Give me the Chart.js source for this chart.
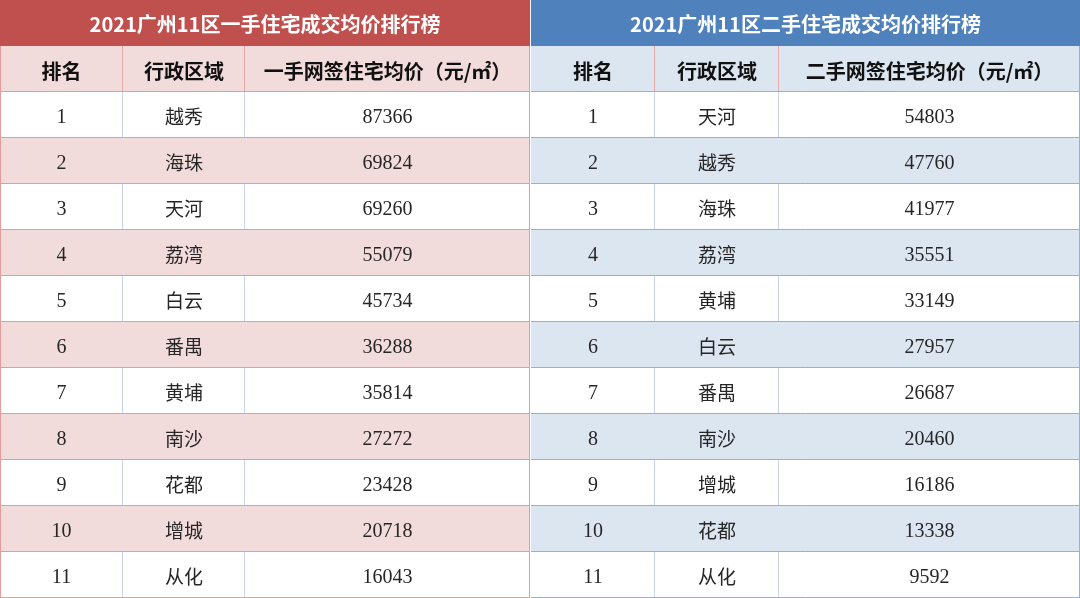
<!DOCTYPE html>
<html><head><meta charset="utf-8">
<script src="https://cdn.jsdelivr.net/npm/chart.js@4.4.1/dist/chart.umd.min.js"></script>
<style>html,body{margin:0;padding:0;background:#fff;}canvas{display:block;}</style>
</head><body>
<canvas id="c" width="1080" height="598"></canvas>
<script>
// ---- data ----
const ranks = ['1','2','3','4','5','6','7','8','9','10','11'];
const newDistricts = ['越秀','海珠','天河','荔湾','白云','番禺','黄埔','南沙','花都','增城','从化'];
const newPrices = [87366,69824,69260,55079,45734,36288,35814,27272,23428,20718,16043];
const resaleDistricts = ['天河','越秀','海珠','荔湾','黄埔','白云','番禺','南沙','增城','花都','从化'];
const resalePrices = [54803,47760,41977,35551,33149,27957,26687,20460,16186,13338,9592];
const titles = ['2021广州11区一手住宅成交均价排行榜','2021广州11区二手住宅成交均价排行榜'];
const newHeaders = ['排名','行政区域','一手网签住宅均价（元/㎡）'];
const resaleHeaders = ['排名','行政区域','二手网签住宅均价（元/㎡）'];

// ---- layout (not data) ----
const rowKeys = ['title','header'].concat(ranks);
const leftEdges = [0,123,245,530];
const rightEdges = [531,655,779,1080];
const C = {
  redTitle:'#C0504D', blueTitle:'#4F81BD', pink:'#F2DCDB', blue:'#DCE6F1',
  pinkLine:'#E69C9A', blueLine:'#93B1D7', bodyV:'#C9D3EA', headV:'#E6A9A7'
};

function spanData(rowFilter, a, b){
  return rowKeys.map((k,i)=> rowFilter(i) ? [a,b] : null);
}
const isShaded = i => i===1 || (i>=2 && (i-2)%2===1);
const datasets = [
  {data: spanData(i=>i===0, leftEdges[0], leftEdges[3]), backgroundColor: C.redTitle},
  {data: spanData(i=>i===0, rightEdges[0], rightEdges[3]), backgroundColor: C.blueTitle},
  {data: spanData(isShaded, leftEdges[0], leftEdges[3]), backgroundColor: C.pink},
  {data: spanData(isShaded, rightEdges[0], rightEdges[3]), backgroundColor: C.blue}
].map(d=>Object.assign(d,{grouped:false, barPercentage:1, categoryPercentage:1, borderWidth:0, inflateAmount:0, borderSkipped:false}));

const tablePlugin = {
  id:'table',
  beforeDraw(chart){
    const ctx = chart.ctx; ctx.save(); ctx.fillStyle='#fff'; ctx.fillRect(0,0,chart.width,chart.height); ctx.restore();
  },
  afterDatasetsDraw(chart){
    const ctx = chart.ctx, xs = chart.scales.x, ys = chart.scales.y;
    const X = v => xs.getPixelForValue(v);
    const Yc = i => ys.getPixelForValue(i);
    const half = (Yc(1)-Yc(0))/2;
    const top = i => Math.round(Yc(i)-half);
    const bot = i => Math.round(Yc(i)+half);
    ctx.save();
    ctx.lineWidth = 1;
    function hline(y, x0, x1, col){ ctx.strokeStyle=col; ctx.beginPath(); ctx.moveTo(x0, y+0.5); ctx.lineTo(x1, y+0.5); ctx.stroke(); }
    function vline(x, y0, y1, col){ ctx.strokeStyle=col; ctx.beginPath(); ctx.moveTo(Math.round(x)+0.5, y0); ctx.lineTo(Math.round(x)+0.5, y1); ctx.stroke(); }
    // vertical inner lines
    rowKeys.forEach((k,i)=>{
      if(i===0) return;
      const y0 = top(i), y1 = bot(i);
      if(i===1){
        [leftEdges[1],leftEdges[2],rightEdges[1],rightEdges[2]].forEach(e=>vline(X(e)-1,y0,y1,C.headV));
      } else if(!isShaded(i)){
        [leftEdges[1],leftEdges[2],rightEdges[1],rightEdges[2]].forEach(e=>vline(X(e)-1,y0,y1,C.bodyV));
      }
    });
    // horizontal lines
    for(let i=1;i<rowKeys.length;i++){
      const y = bot(i)-1;
      hline(y, X(leftEdges[0]), X(leftEdges[3]), C.pinkLine);
      hline(y, X(rightEdges[0]), X(rightEdges[3]), C.blueLine);
    }
    // outer / divider
    vline(X(leftEdges[0]), top(1), bot(rowKeys.length-1), C.pinkLine);
    vline(X(leftEdges[3])-1, top(1), bot(rowKeys.length-1), C.pinkLine);
    vline(X(rightEdges[3])-1, top(1), bot(rowKeys.length-1), C.blueLine);

    ctx.textAlign='center'; ctx.textBaseline='middle';
    // titles
    ctx.fillStyle='#fff'; ctx.font="bold 20px 'Noto Sans CJK SC'";
    ctx.fillText(titles[0], (X(leftEdges[0])+X(leftEdges[3]))/2, Yc(0)+1);
    ctx.fillText(titles[1], (X(rightEdges[0])+X(rightEdges[3]))/2, Yc(0)+1);
    // headers
    ctx.fillStyle='#111'; ctx.font="bold 20px 'Noto Sans CJK SC'";
    const mid = (e,j)=>(X(e[j])+X(e[j+1]))/2;
    newHeaders.forEach((h,j)=>ctx.fillText(h, mid(leftEdges,j), Yc(1)+2));
    resaleHeaders.forEach((h,j)=>ctx.fillText(h, mid(rightEdges,j), Yc(1)+2));
    // body
    ctx.fillStyle='#262626';
    const numFont = "20px 'Liberation Serif'";
    const cjkFont = "19px 'Noto Sans CJK SC'";
    ranks.forEach((r,k)=>{
      const y = Yc(k+2);
      ctx.font = numFont;
      ctx.fillText(r, mid(leftEdges,0), y+3);
      ctx.fillText(String(newPrices[k]), mid(leftEdges,2), y+3);
      ctx.fillText(r, mid(rightEdges,0), y+3);
      ctx.fillText(String(resalePrices[k]), mid(rightEdges,2), y+3);
      ctx.font = cjkFont;
      ctx.fillText(newDistricts[k], mid(leftEdges,1), y+1.5);
      ctx.fillText(resaleDistricts[k], mid(rightEdges,1), y+1.5);
    });
    ctx.restore();
  }
};

new Chart(document.getElementById('c'), {
  type:'bar',
  data:{labels: rowKeys, datasets},
  options:{
    indexAxis:'y', responsive:false, animation:false,
    layout:{padding:0},
    plugins:{legend:{display:false}, tooltip:{enabled:false}},
    scales:{
      x:{type:'linear', min:0, max:1080, display:false},
      y:{type:'category', display:false, offset:true}
    }
  },
  plugins:[tablePlugin]
});
</script>
</body></html>
